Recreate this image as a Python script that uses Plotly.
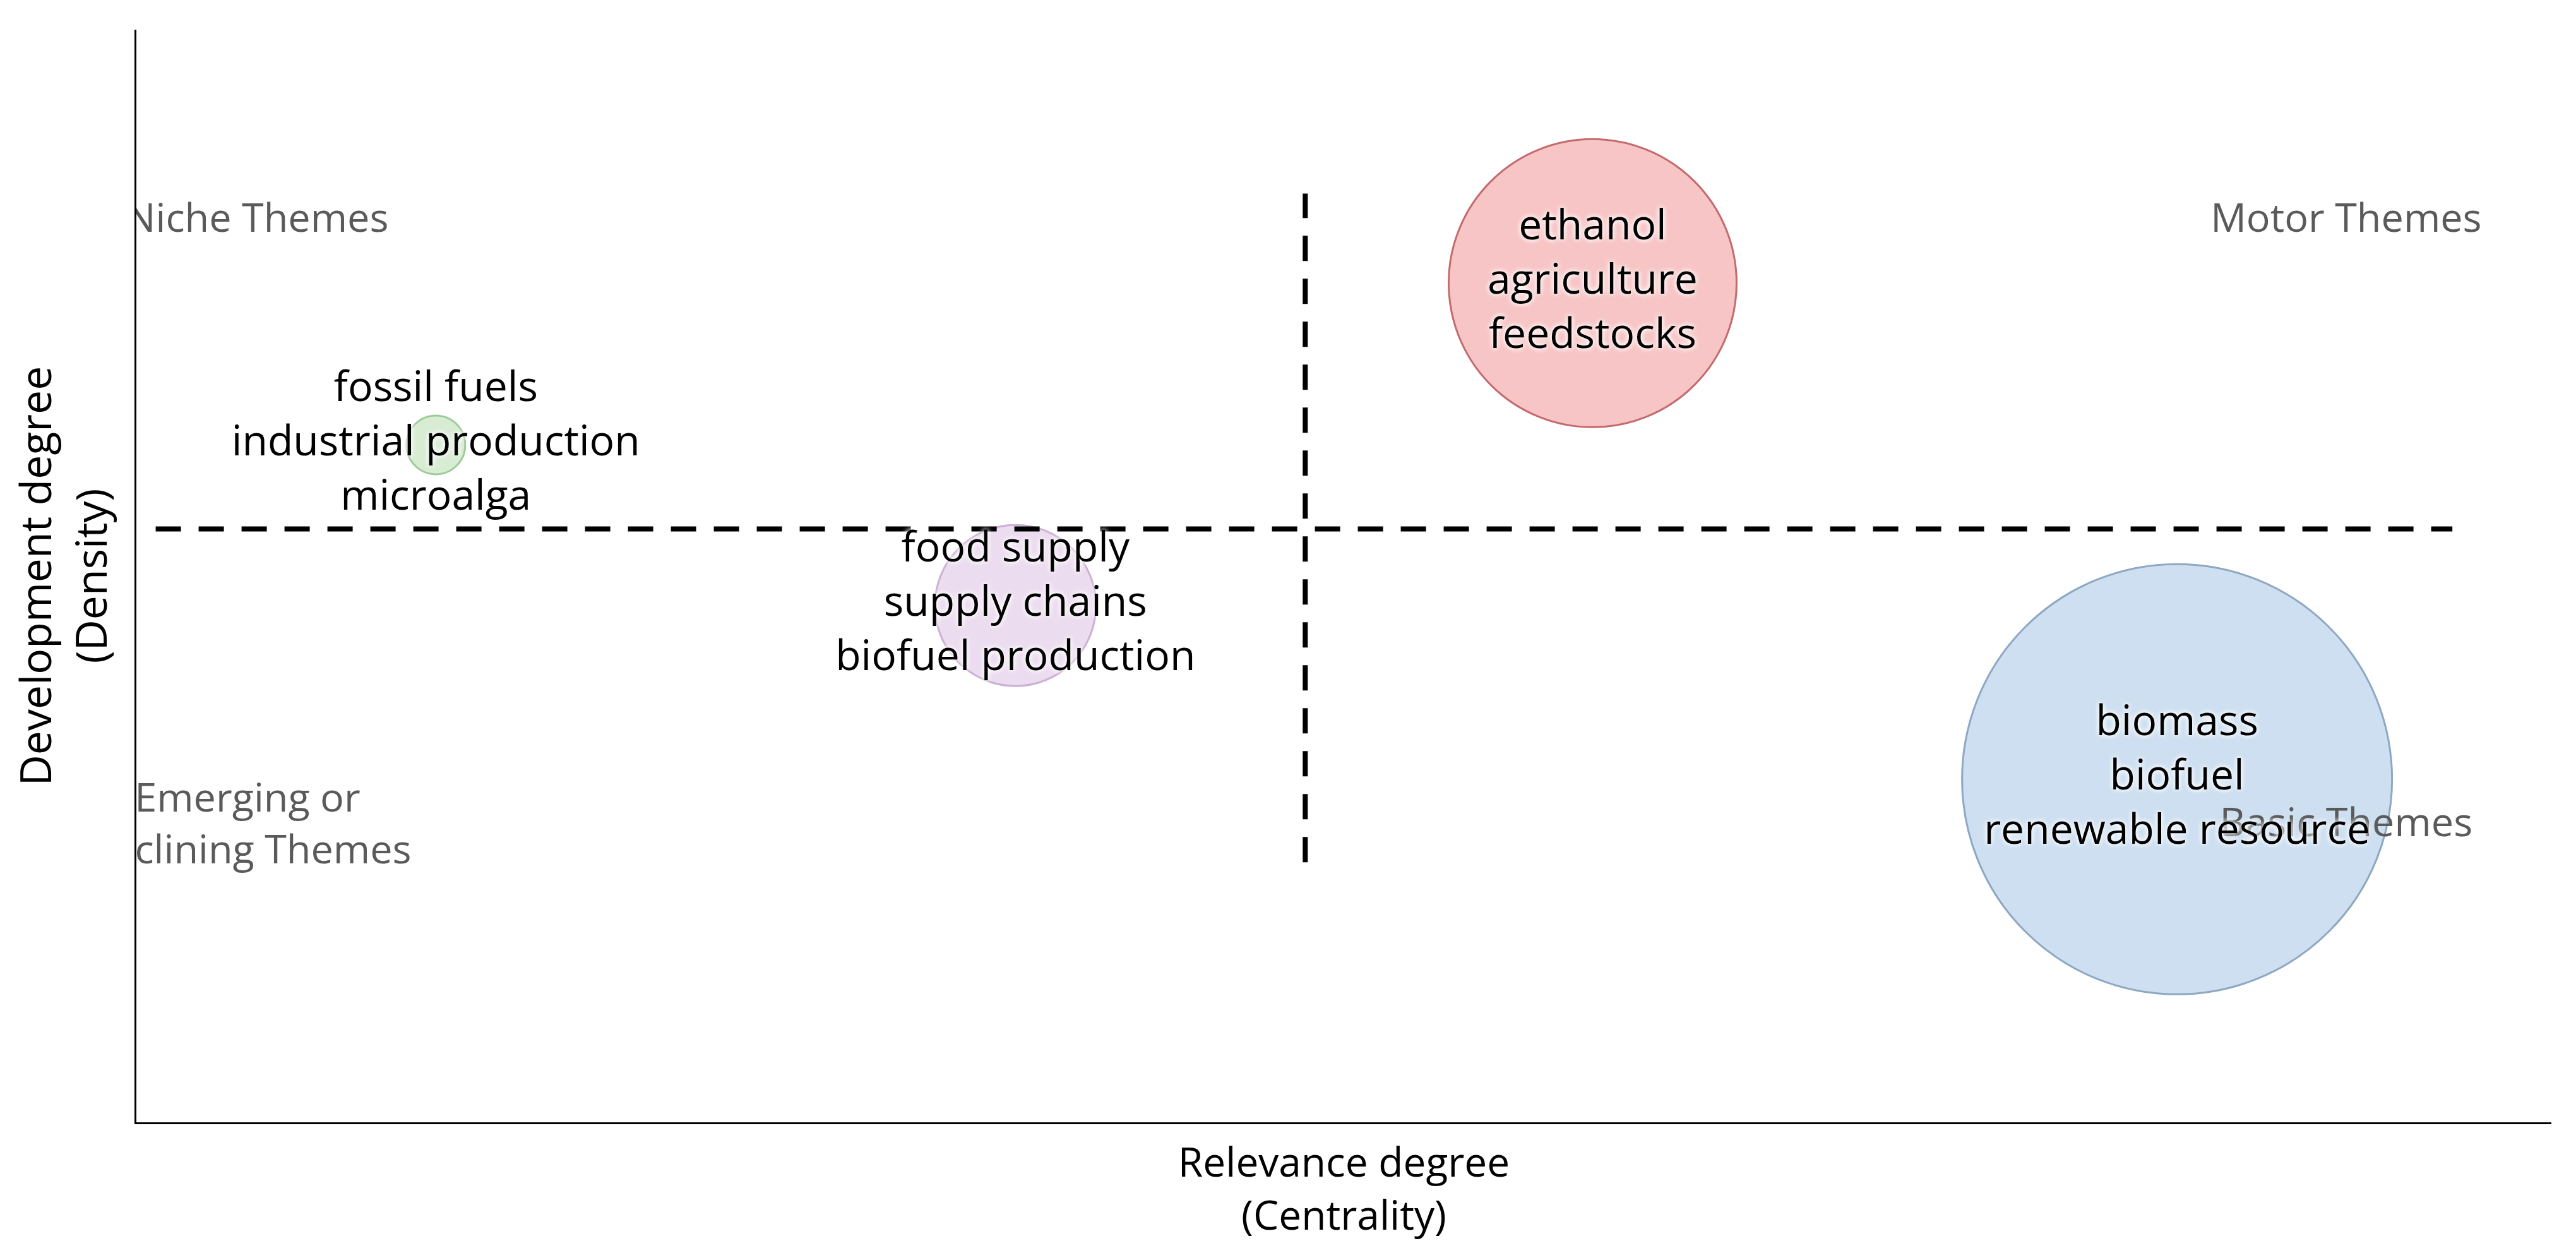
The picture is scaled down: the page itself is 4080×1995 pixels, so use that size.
import plotly.graph_objects as go

# thematic map: centrality (x) vs density (y)
themes = [
    "fossil fuels<br>industrial production<br>microalga",
    "food supply<br>supply chains<br>biofuel production",
    "ethanol<br>agriculture<br>feedstocks",
    "biomass<br>biofuel<br>renewable resource",
]
centrality = [12.4, 36.4, 60.3, 84.5]
density = [62.0, 47.3, 76.8, 31.4]
occurrences = [31, 85, 152, 227]

fill_colors = ["#d8ecd4", "#ecdcef", "#f7c5c6", "#cddff0"]
line_colors = ["#9fcb9a", "#cdb0d5", "#c46a6c", "#8ea8c2"]

quadrant_names = ["Niche Themes", "Motor Themes", "Emerging or<br>Declining Themes", "Basic Themes"]
quadrant_x = [5.0, 91.5, 4.6, 91.5]
quadrant_y = [82.4, 82.4, 27.0, 27.1]

# quadrant split lines
x_split = 48.4
x_split_span = [23.8, 85.0]
y_split = 54.3
y_split_span = [0.8, 95.9]

FONT = "Open Sans"

fig = go.Figure()

fig.add_trace(go.Scatter(
    x=centrality, y=density, mode="markers",
    marker=dict(size=occurrences, sizemode="diameter", sizeref=1 / 3,
                color=fill_colors, line=dict(color=line_colors, width=3), opacity=1),
    hoverinfo="skip", showlegend=False,
))

fig.add_trace(go.Scatter(
    x=[x_split, x_split], y=x_split_span, mode="lines",
    line=dict(color="black", width=8, dash="40px,28px"),
    hoverinfo="skip", showlegend=False,
))
fig.add_trace(go.Scatter(
    x=y_split_span, y=[y_split, y_split], mode="lines",
    line=dict(color="black", width=8, dash="40px,28px"),
    hoverinfo="skip", showlegend=False,
))

fig.add_trace(go.Scatter(
    x=quadrant_x, y=quadrant_y, mode="text", text=quadrant_names,
    textposition="middle center", cliponaxis=True,
    textfont=dict(family=FONT, size=63, color="#5a5a5a"),
    hoverinfo="skip", showlegend=False,
))

fig.add_trace(go.Scatter(
    x=centrality, y=density, mode="text", text=themes,
    textposition="middle center", cliponaxis=False,
    textfont=dict(family=FONT, size=66, color="black",
                  shadow="0px 0px 8px white, 0px 0px 8px white"),
    hoverinfo="skip", showlegend=False,
))

fig.update_xaxes(
    range=[0, 100], showgrid=False, zeroline=False, showticklabels=False, ticks="",
    showline=True, linecolor="black", linewidth=3,
    title=dict(text="Relevance degree<br>(Centrality)", standoff=40,
               font=dict(family=FONT, size=64, color="black")),
)
fig.update_yaxes(
    range=[0, 100], showgrid=False, zeroline=False, showticklabels=False, ticks="",
    showline=True, linecolor="black", linewidth=3,
    title=dict(text="Development degree<br>(Density)", standoff=32,
               font=dict(family=FONT, size=68, color="black")),
)

fig.update_layout(
    width=4080, height=1995,
    margin=dict(l=208, r=47, t=39, b=226),
    plot_bgcolor="white", paper_bgcolor="white",
    font=dict(family=FONT),
)

fig.write_html("out.html")
